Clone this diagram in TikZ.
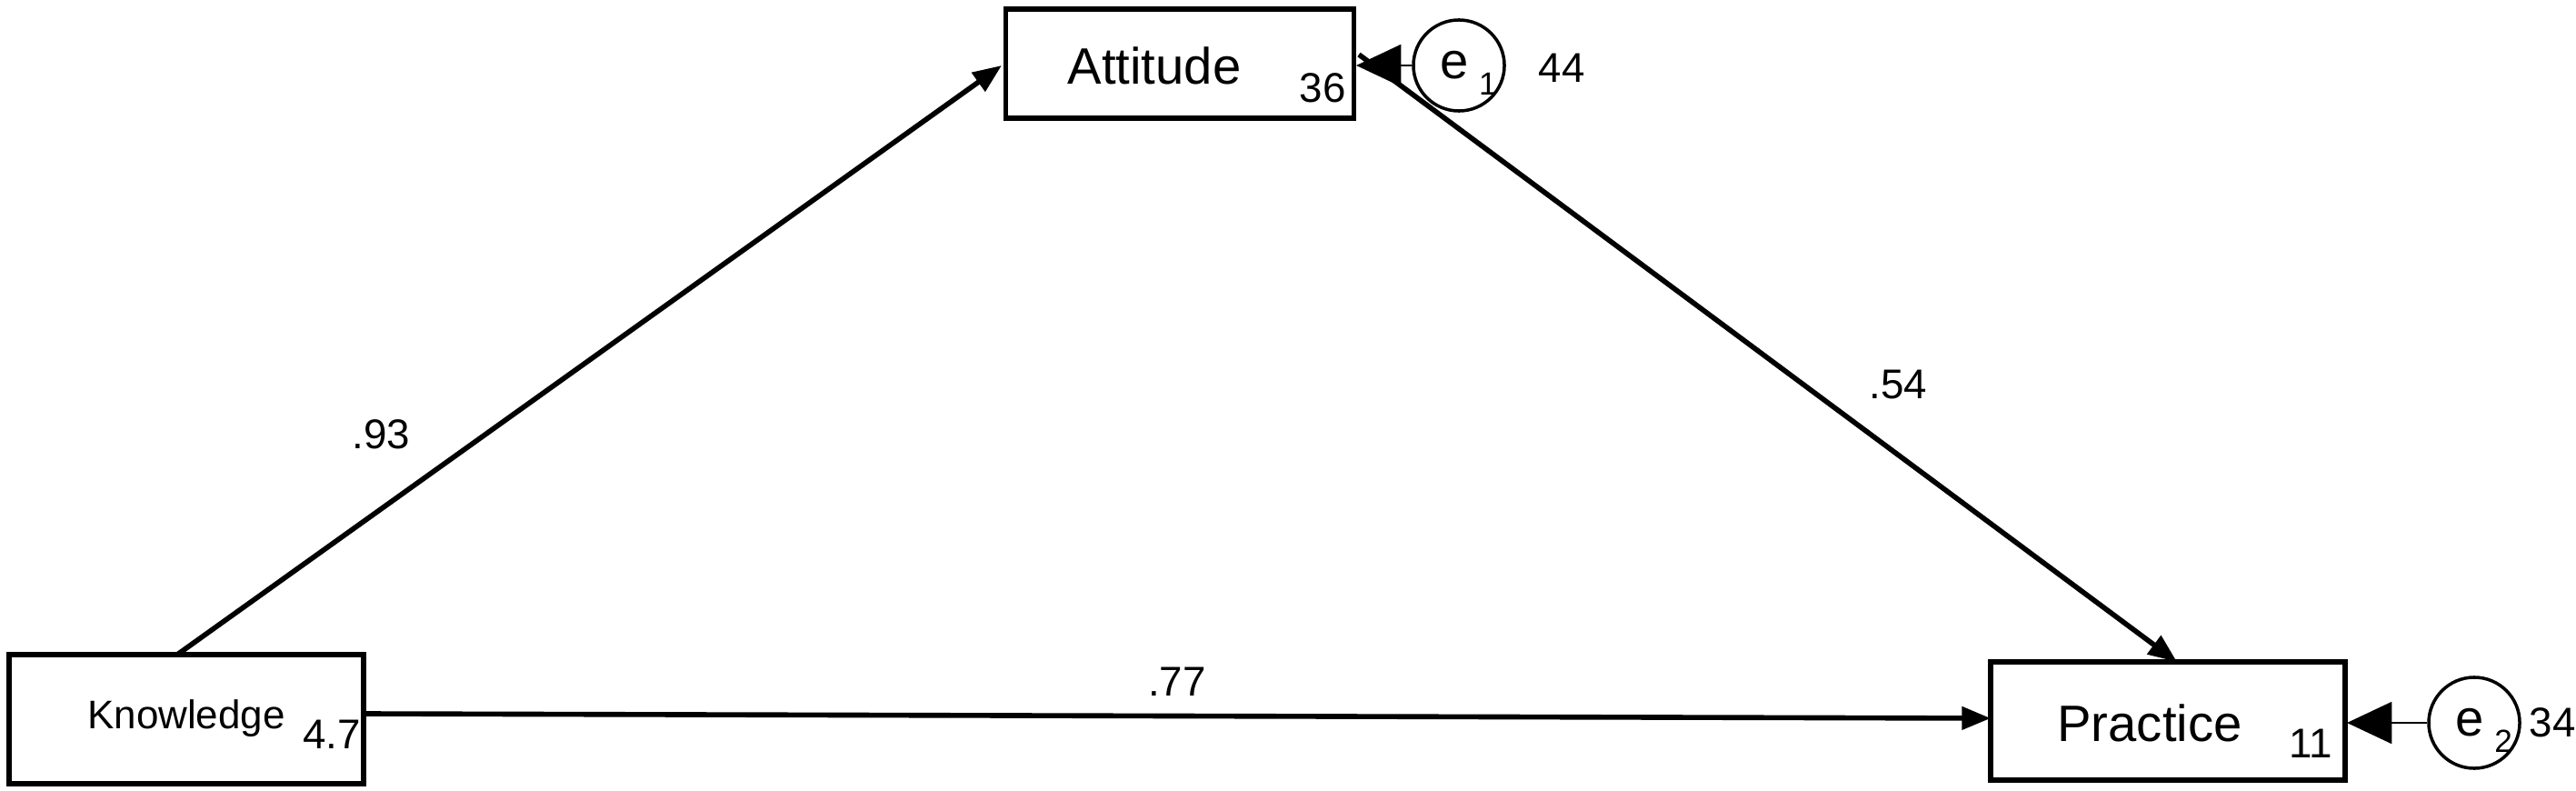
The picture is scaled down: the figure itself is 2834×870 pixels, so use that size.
\documentclass[tikz,border=0pt]{standalone}
\usepackage{fontspec}
\setmainfont{Liberation Sans}
\usetikzlibrary{arrows.meta}
\begin{document}
\begin{tikzpicture}[x=0.01cm,y=-0.01cm,
  box/.style={draw,line width=1.6pt,inner sep=0pt},
  err/.style={draw,circle,line width=1pt,minimum size=1cm,inner sep=0pt},
  path/.style={line width=1.6pt,-{Triangle[length=9pt,width=7pt]}},
  epath/.style={line width=0.8pt,-{Triangle[length=14pt,width=13pt]}},
  lab/.style={font=\fontsize{13pt}{15pt}\selectfont}]
\useasboundingbox (0,0) rectangle (2834,870);
\node[box,minimum width=3.83cm,minimum height=1.2cm] (att) at (1298,70) {};
\node[box,minimum width=3.9cm,minimum height=1.42cm] (kn) at (205,791) {};
\node[box,minimum width=3.9cm,minimum height=1.3cm] (pr) at (2385,793) {};
\node[font=\fontsize{16pt}{18pt}\selectfont] (attt) at (1270,72) {Attitude};
\node[lab] (att36) at (1455,97) {36};
\node[font=\fontsize{12.5pt}{14pt}\selectfont] (knt) at (205,790) {Knowledge};
\node[lab] (kn47) at (365,808) {4.7};
\node[font=\fontsize{16pt}{18pt}\selectfont] (prt) at (2365,795) {Practice};
\node[lab] (pr11) at (2542,818) {11};
\node[err] (e1) at (1605,72) {};
\node[font=\fontsize{16pt}{18pt}\selectfont] at (1600,72) {e};
\node[font=\fontsize{10pt}{12pt}\selectfont] at (1637,92) {1};
\node[err] (e2) at (2722,795) {};
\node[font=\fontsize{16pt}{18pt}\selectfont] at (2717,795) {e};
\node[font=\fontsize{10pt}{12pt}\selectfont] at (2754,815) {2};
\node[lab] at (1718,75) {44};
\node[lab] at (2808,795) {34};
\coordinate (k1) at (195,720);
\coordinate (a1) at (1102,72);
\coordinate (a2) at (1495,60);
\coordinate (p1) at (2395,728);
\coordinate (k2) at (400,785);
\coordinate (p2) at (2190,790);
\draw[path] (k1) -- (a1) node[lab,pos=0.31,above left=3pt] {.93};
\draw[path] (a2) -- (p1) node[lab,pos=0.6,above right=2pt] {.54};
\draw[path] (k2) -- (p2) node[lab,midway,above=2pt] {.77};
\draw[epath] (e1) -- (1492,72);
\draw[epath] (e2) -- (2582,795);
\end{tikzpicture}
\end{document}
